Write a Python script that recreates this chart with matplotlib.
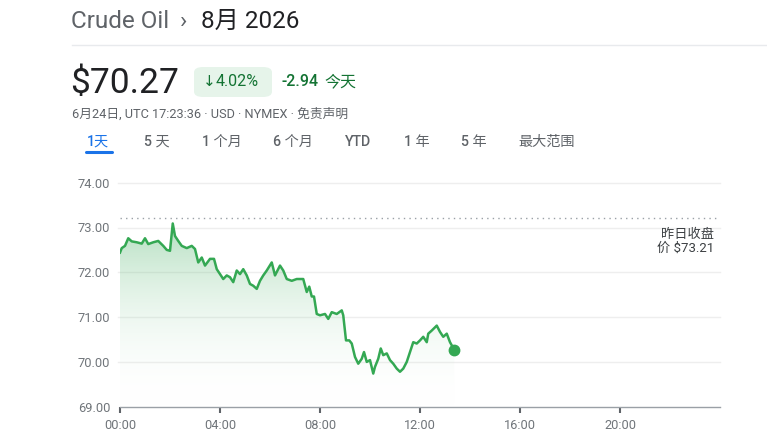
import numpy as np
import matplotlib
matplotlib.use("Agg")
import matplotlib.pyplot as plt
from matplotlib.patches import FancyBboxPatch, Polygon
from matplotlib.colors import LinearSegmentedColormap

plt.rcParams['font.family'] = ['Roboto', 'Noto Sans CJK SC', 'DejaVu Sans']

# ---- data ----
hours = [0.00, 0.07, 0.20, 0.33, 0.47, 0.67, 0.87, 1.00, 1.13, 1.33, 1.53, 1.73, 1.87, 2.00,
         2.11, 2.20, 2.33, 2.47, 2.67, 2.87, 3.00, 3.13, 3.27, 3.40, 3.60, 3.76, 3.87, 4.00,
         4.13, 4.27, 4.40, 4.53, 4.67, 4.80, 4.93, 5.07, 5.20, 5.33, 5.47, 5.60, 5.73, 5.87,
         6.07, 6.20, 6.40, 6.53, 6.67, 6.87, 7.07, 7.33, 7.47, 7.57, 7.67, 7.76, 7.87, 8.00,
         8.20, 8.33, 8.47, 8.67, 8.87, 8.93, 9.04, 9.17, 9.27, 9.40, 9.53, 9.67, 9.76, 9.87,
         10.00, 10.13, 10.20, 10.33, 10.43, 10.53, 10.67, 10.80, 10.93, 11.07, 11.20, 11.33,
         11.47, 11.60, 11.73, 11.87, 12.00, 12.13, 12.27, 12.33, 12.47, 12.67, 12.80, 12.93,
         13.07, 13.20, 13.37]
prices = [72.44, 72.54, 72.59, 72.76, 72.69, 72.67, 72.64, 72.76, 72.63, 72.67, 72.70, 72.59,
          72.50, 72.48, 73.09, 72.81, 72.70, 72.59, 72.54, 72.59, 72.52, 72.22, 72.33, 72.15,
          72.30, 72.30, 72.07, 71.96, 71.85, 71.93, 71.89, 71.78, 72.04, 71.96, 72.07, 71.93,
          71.74, 71.70, 71.63, 71.81, 71.93, 72.04, 72.22, 71.93, 72.15, 72.04, 71.85, 71.81,
          71.85, 71.85, 71.56, 71.68, 71.46, 71.46, 71.07, 71.04, 71.07, 70.96, 71.11, 71.07,
          71.15, 71.04, 70.48, 70.48, 70.41, 70.11, 69.96, 70.07, 70.22, 70.00, 70.04, 69.74,
          69.89, 70.07, 70.30, 70.15, 70.19, 70.04, 69.96, 69.85, 69.78, 69.85, 70.00, 70.22,
          70.44, 70.41, 70.48, 70.56, 70.44, 70.63, 70.70, 70.81, 70.67, 70.56, 70.63, 70.44,
          70.27]
prev_close = 73.21
y_ticks = [69, 70, 71, 72, 73, 74]
x_ticks = [0, 4, 8, 12, 16, 20]
x_labels = ["00:00", "04:00", "08:00", "12:00", "16:00", "20:00"]
tabs = ["1天", "5 天", "1 个月", "6 个月", "YTD", "1 年", "5 年", "最大范围"]
tab_x = [87, 144, 202, 273, 345, 404, 461, 518]

W, H = 767, 446
fig = plt.figure(figsize=(W / 100, H / 100), dpi=100)
fig.patch.set_facecolor("white")

def fx(px):
    return px / W

def fy(py):
    return 1 - py / H

GREEN = "#34a853"
GRAY_T = "#5f6368"

# ---- header ----
fig.text(fx(71), fy(21), "Crude Oil", fontsize=17.5, color=GRAY_T, va="center", ha="left")
fig.text(fx(180), fy(21), "›", fontsize=17.5, color=GRAY_T, va="center", ha="left")
fig.text(fx(201), fy(21), "8月 2026", fontsize=17.5, color="#202124", va="center", ha="left")
fig.add_artist(plt.Line2D([fx(72), fx(767)], [fy(45), fy(45)], color="#e8eaed", lw=1))

fig.text(fx(70), fy(83), "$70.27", fontsize=25.5, color="#202124", va="center", ha="left")
badge = FancyBboxPatch((fx(194), fy(97)), fx(78), (97 - 67) / H,
                       boxstyle="round,pad=0,rounding_size=0.012",
                       transform=fig.transFigure, facecolor="#e6f4ea", edgecolor="none")
fig.add_artist(badge)
fig.text(fx(203), fy(82), "↓", fontsize=11, color="#137333", va="center", ha="left",
         family=['DejaVu Sans'])
fig.text(fx(216), fy(82), "4.02%", fontsize=11.5, color="#137333", va="center", ha="left")
fig.text(fx(282), fy(82), "-2.94", fontsize=11.5, color="#137333", va="center", ha="left",
         fontweight="medium")
fig.text(fx(324), fy(82), "今天", fontsize=11.5, color="#137333", va="center", ha="left")

fig.text(fx(72), fy(114), "6月24日, UTC 17:23:36 · USD · NYMEX · 免责声明", fontsize=9.2,
         color=GRAY_T, va="center", ha="left")

for t, x in zip(tabs, tab_x):
    c = "#1a73e8" if t == "1天" else GRAY_T
    fig.text(fx(x), fy(142), t, fontsize=10.2, color=c, va="center", ha="left",
             fontweight="medium")
fig.add_artist(plt.Line2D([fx(86), fx(112)], [fy(152), fy(152)], color="#1a73e8", lw=2.2,
                          solid_capstyle="round"))

# ---- chart ----
ax = fig.add_axes([fx(120), fy(406.7), fx(600), 224 / H])
ax.set_xlim(0, 24)
ax.set_ylim(69, 74)
ax.set_facecolor("white")
for s in ["top", "right", "left"]:
    ax.spines[s].set_visible(False)
ax.spines["bottom"].set_color("#9aa0a6")
ax.spines["bottom"].set_linewidth(1)

for yv in y_ticks[1:]:
    ax.plot([-0.08, 24], [yv, yv], color="#eeeeee", lw=1, zorder=0, clip_on=False)

ax.set_yticks(y_ticks)
ax.set_yticklabels([f"{v:.2f}" for v in y_ticks])
ax.tick_params(axis="y", length=0, pad=7, labelsize=9.3, labelcolor="#70757a")
ax.set_xticks(x_ticks)
ax.set_xticklabels(x_labels)
ax.tick_params(axis="x", length=4, width=1.5, color="#5f6368", pad=5, labelsize=9.2,
               labelcolor="#70757a", direction="out")

# gradient fill
verts = list(zip(hours, prices)) + [(hours[-1], 69), (hours[0], 69)]
poly = Polygon(verts, closed=True, facecolor="none", edgecolor="none")
ax.add_patch(poly)
cmap = LinearSegmentedColormap.from_list("g", [(1, 1, 1, 0), (0.20, 0.66, 0.33, 0.36)])
grad = np.linspace(0, 1, 256).reshape(-1, 1)
im = ax.imshow(grad, extent=[0, 24, 69, 73.1], origin="lower", cmap=cmap, aspect="auto",
               zorder=1, interpolation="bicubic")
im.set_clip_path(poly)

ax.plot(hours, prices, color=GREEN, lw=1.8, zorder=3, solid_joinstyle="round")
ax.plot([hours[-1]], [prices[-1]], "o", color=GREEN, ms=7.5, zorder=4)

ax.plot([0, 24], [prev_close, prev_close], color="#9aa0a6", lw=1, ls=(0, (1, 3)), zorder=2)
ax.text(23.75, 72.84, "昨日收盘", fontsize=9.5, color="#3c4043", ha="right", va="center")
ax.text(23.75, 72.53, "价 $73.21", fontsize=9.5, color="#3c4043", ha="right", va="center")

fig.savefig("out.png", dpi=100, facecolor="white")
